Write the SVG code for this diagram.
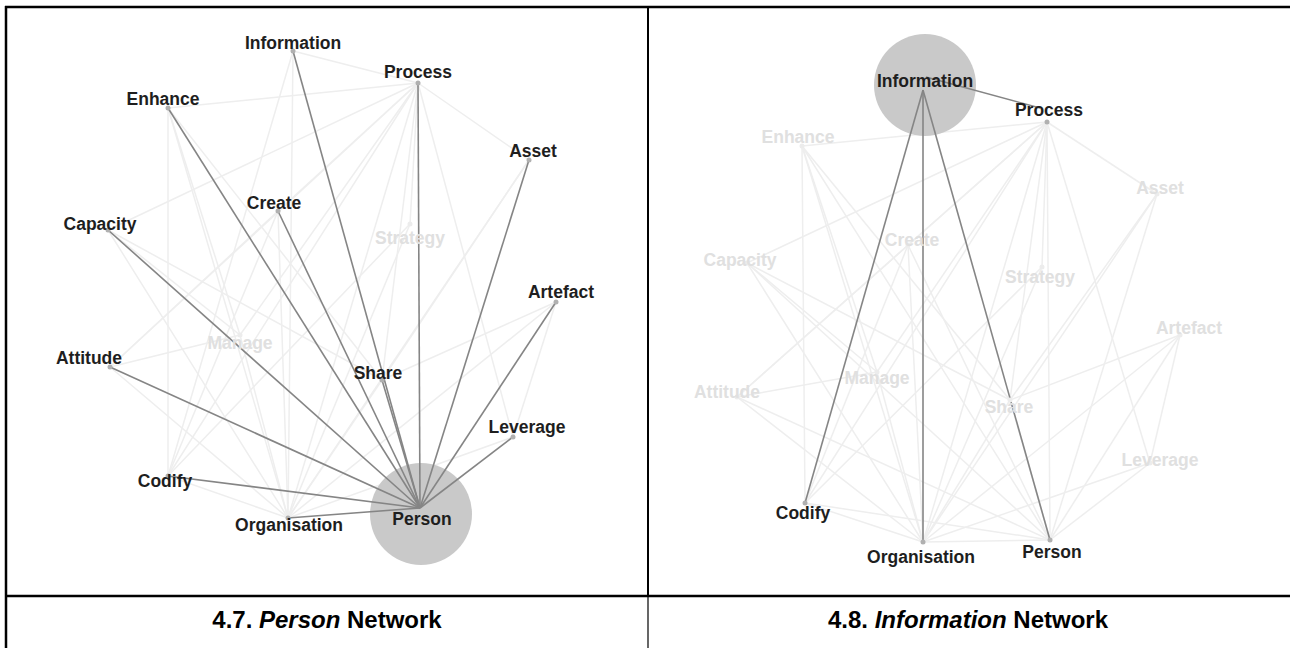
<svg xmlns="http://www.w3.org/2000/svg" width="1290" height="648" viewBox="0 0 1290 648">
<style>
.faint line{stroke:#eeeeee;stroke-width:1.5;fill:none}
.dark line{stroke:#858585;stroke-width:1.6;fill:none}
.lbl{font-family:"Liberation Sans",Arial,sans-serif;font-weight:bold;font-size:17.5px;text-anchor:middle;fill:#1e1e1e}
.off{fill:#e0e0e0}
.dot{fill:#b0b0b0}
.dotoff{fill:#ececec}
.halo{fill:#c9c9c9}
.cap{font-family:"Liberation Sans",Arial,sans-serif;font-weight:bold;font-size:24px;text-anchor:middle;fill:#000}
.frame{stroke:#000;fill:none}
</style>
<rect width="1290" height="648" fill="#fff"/>

<!-- LEFT PANEL: Person network -->
<g id="left-connectors-faint" class="faint">
<line x1="168" y1="108" x2="418" y2="83"/>
<line x1="108" y1="230" x2="418" y2="83"/>
<line x1="278" y1="211" x2="418" y2="83"/>
<line x1="410" y1="224" x2="418" y2="83"/>
<line x1="240" y1="335" x2="418" y2="83"/>
<line x1="168" y1="476" x2="418" y2="83"/>
<line x1="288" y1="518" x2="418" y2="83"/>
<line x1="382" y1="380" x2="418" y2="83"/>
<line x1="513" y1="437" x2="418" y2="83"/>
<line x1="529" y1="160" x2="418" y2="83"/>
<line x1="110" y1="367" x2="418" y2="83"/>
<line x1="168" y1="108" x2="168" y2="476"/>
<line x1="168" y1="108" x2="240" y2="335"/>
<line x1="168" y1="108" x2="288" y2="518"/>
<line x1="168" y1="108" x2="382" y2="380"/>
<line x1="293" y1="51" x2="418" y2="83"/>
<line x1="293" y1="51" x2="168" y2="476"/>
<line x1="293" y1="51" x2="288" y2="518"/>
<line x1="108" y1="230" x2="240" y2="335"/>
<line x1="108" y1="230" x2="288" y2="518"/>
<line x1="108" y1="230" x2="382" y2="380"/>
<line x1="278" y1="211" x2="168" y2="476"/>
<line x1="278" y1="211" x2="288" y2="518"/>
<line x1="278" y1="211" x2="110" y2="367"/>
<line x1="110" y1="367" x2="288" y2="518"/>
<line x1="110" y1="367" x2="240" y2="335"/>
<line x1="529" y1="160" x2="288" y2="518"/>
<line x1="529" y1="160" x2="382" y2="380"/>
<line x1="556" y1="302" x2="288" y2="518"/>
<line x1="556" y1="302" x2="382" y2="380"/>
<line x1="556" y1="302" x2="513" y2="437"/>
<line x1="513" y1="437" x2="288" y2="518"/>
<line x1="410" y1="224" x2="288" y2="518"/>
<line x1="410" y1="224" x2="168" y2="476"/>
<line x1="240" y1="335" x2="288" y2="518"/>
<line x1="382" y1="380" x2="288" y2="518"/>
<line x1="168" y1="476" x2="288" y2="518"/>
</g>
<g id="node-person-left-halo"><circle class="halo" cx="421" cy="514" r="51"/></g>
<g id="left-connectors-dark" class="dark">
<line x1="420" y1="508" x2="293" y2="51"/>
<line x1="420" y1="508" x2="418" y2="83"/>
<line x1="420" y1="508" x2="168" y2="108"/>
<line x1="420" y1="508" x2="529" y2="160"/>
<line x1="420" y1="508" x2="278" y2="211"/>
<line x1="420" y1="508" x2="108" y2="230"/>
<line x1="420" y1="508" x2="556" y2="302"/>
<line x1="420" y1="508" x2="110" y2="367"/>
<line x1="420" y1="508" x2="382" y2="380"/>
<line x1="420" y1="508" x2="513" y2="437"/>
<line x1="420" y1="508" x2="168" y2="476"/>
<line x1="420" y1="508" x2="288" y2="518"/>
</g>
<g id="L-information"><circle class="dot" cx="293" cy="51" r="2.5"/><text class="lbl" x="293" y="49">Information</text></g>
<g id="L-process"><circle class="dot" cx="418" cy="83" r="2.5"/><text class="lbl" x="418" y="78">Process</text></g>
<g id="L-enhance"><circle class="dot" cx="168" cy="108" r="2.5"/><text class="lbl" x="163" y="105">Enhance</text></g>
<g id="L-asset"><circle class="dot" cx="529" cy="160" r="2.5"/><text class="lbl" x="533" y="157">Asset</text></g>
<g id="L-create"><circle class="dot" cx="278" cy="211" r="2.5"/><text class="lbl" x="274" y="209">Create</text></g>
<g id="L-capacity"><circle class="dot" cx="108" cy="230" r="2.5"/><text class="lbl" x="100" y="230">Capacity</text></g>
<g id="L-strategy"><circle class="dotoff" cx="410" cy="224" r="2.5"/><text class="lbl off" x="410" y="244">Strategy</text></g>
<g id="L-artefact"><circle class="dot" cx="556" cy="302" r="2.5"/><text class="lbl" x="561" y="298">Artefact</text></g>
<g id="L-manage"><circle class="dotoff" cx="240" cy="335" r="2.5"/><text class="lbl off" x="240" y="349">Manage</text></g>
<g id="L-attitude"><circle class="dot" cx="110" cy="367" r="2.5"/><text class="lbl" x="89" y="364">Attitude</text></g>
<g id="L-share"><circle class="dot" cx="382" cy="380" r="2.5"/><text class="lbl" x="378" y="379">Share</text></g>
<g id="L-leverage"><circle class="dot" cx="513" cy="437" r="2.5"/><text class="lbl" x="527" y="433">Leverage</text></g>
<g id="L-codify"><circle class="dot" cx="168" cy="476" r="2.5"/><text class="lbl" x="165" y="487">Codify</text></g>
<g id="L-organisation"><circle class="dot" cx="288" cy="518" r="2.5"/><text class="lbl" x="289" y="531">Organisation</text></g>
<g id="L-person"><text class="lbl" x="422" y="525">Person</text></g>

<!-- RIGHT PANEL: Information network -->
<g id="right-connectors-faint" class="faint">
<line x1="802" y1="146" x2="1047" y2="122"/>
<line x1="747" y1="263" x2="1047" y2="122"/>
<line x1="908" y1="245" x2="1047" y2="122"/>
<line x1="1042" y1="267" x2="1047" y2="122"/>
<line x1="877" y1="372" x2="1047" y2="122"/>
<line x1="805" y1="503" x2="1047" y2="122"/>
<line x1="923" y1="542" x2="1047" y2="122"/>
<line x1="1010" y1="400" x2="1047" y2="122"/>
<line x1="1150" y1="463" x2="1047" y2="122"/>
<line x1="1157" y1="194" x2="1047" y2="122"/>
<line x1="737" y1="397" x2="1047" y2="122"/>
<line x1="1047" y1="122" x2="1050" y2="540"/>
<line x1="802" y1="146" x2="805" y2="503"/>
<line x1="802" y1="146" x2="877" y2="372"/>
<line x1="802" y1="146" x2="923" y2="542"/>
<line x1="802" y1="146" x2="1010" y2="400"/>
<line x1="802" y1="146" x2="1050" y2="540"/>
<line x1="747" y1="263" x2="877" y2="372"/>
<line x1="747" y1="263" x2="923" y2="542"/>
<line x1="747" y1="263" x2="1010" y2="400"/>
<line x1="747" y1="263" x2="1050" y2="540"/>
<line x1="908" y1="245" x2="805" y2="503"/>
<line x1="908" y1="245" x2="923" y2="542"/>
<line x1="908" y1="245" x2="737" y2="397"/>
<line x1="908" y1="245" x2="1050" y2="540"/>
<line x1="737" y1="397" x2="923" y2="542"/>
<line x1="737" y1="397" x2="877" y2="372"/>
<line x1="737" y1="397" x2="1050" y2="540"/>
<line x1="1157" y1="194" x2="923" y2="542"/>
<line x1="1157" y1="194" x2="1010" y2="400"/>
<line x1="1157" y1="194" x2="1050" y2="540"/>
<line x1="1180" y1="335" x2="923" y2="542"/>
<line x1="1180" y1="335" x2="1010" y2="400"/>
<line x1="1180" y1="335" x2="1150" y2="463"/>
<line x1="1180" y1="335" x2="1050" y2="540"/>
<line x1="1150" y1="463" x2="923" y2="542"/>
<line x1="1150" y1="463" x2="1050" y2="540"/>
<line x1="1042" y1="267" x2="923" y2="542"/>
<line x1="1042" y1="267" x2="805" y2="503"/>
<line x1="877" y1="372" x2="923" y2="542"/>
<line x1="1010" y1="400" x2="923" y2="542"/>
<line x1="1010" y1="400" x2="1050" y2="540"/>
<line x1="805" y1="503" x2="923" y2="542"/>
<line x1="805" y1="503" x2="1050" y2="540"/>
<line x1="923" y1="542" x2="1050" y2="540"/>
</g>
<g id="node-information-right-halo"><circle class="halo" cx="925" cy="85" r="51"/></g>
<g id="right-connectors-dark" class="dark">
<line x1="926" y1="77" x2="1040" y2="108"/>
<line x1="923" y1="90" x2="805" y2="503"/>
<line x1="923" y1="90" x2="923" y2="542"/>
<line x1="923" y1="90" x2="1050" y2="540"/>
</g>
<g id="R-information"><text class="lbl" x="925" y="87">Information</text></g>
<g id="R-process"><circle class="dot" cx="1047" cy="122" r="2.5"/><text class="lbl" x="1049" y="116">Process</text></g>
<g id="R-enhance"><circle class="dotoff" cx="802" cy="146" r="2.5"/><text class="lbl off" x="798" y="143">Enhance</text></g>
<g id="R-asset"><circle class="dotoff" cx="1157" cy="194" r="2.5"/><text class="lbl off" x="1160" y="194">Asset</text></g>
<g id="R-create"><circle class="dotoff" cx="908" cy="245" r="2.5"/><text class="lbl off" x="912" y="246">Create</text></g>
<g id="R-capacity"><circle class="dotoff" cx="747" cy="263" r="2.5"/><text class="lbl off" x="740" y="266">Capacity</text></g>
<g id="R-strategy"><circle class="dotoff" cx="1042" cy="267" r="2.5"/><text class="lbl off" x="1040" y="283">Strategy</text></g>
<g id="R-artefact"><circle class="dotoff" cx="1180" cy="335" r="2.5"/><text class="lbl off" x="1189" y="334">Artefact</text></g>
<g id="R-manage"><circle class="dotoff" cx="877" cy="372" r="2.5"/><text class="lbl off" x="877" y="384">Manage</text></g>
<g id="R-attitude"><circle class="dotoff" cx="737" cy="397" r="2.5"/><text class="lbl off" x="727" y="398">Attitude</text></g>
<g id="R-share"><circle class="dotoff" cx="1010" cy="400" r="2.5"/><text class="lbl off" x="1009" y="413">Share</text></g>
<g id="R-leverage"><circle class="dotoff" cx="1150" cy="463" r="2.5"/><text class="lbl off" x="1160" y="466">Leverage</text></g>
<g id="R-codify"><circle class="dot" cx="805" cy="503" r="2.5"/><text class="lbl" x="803" y="519">Codify</text></g>
<g id="R-organisation"><circle class="dot" cx="923" cy="542" r="2.5"/><text class="lbl" x="921" y="563">Organisation</text></g>
<g id="R-person"><circle class="dot" cx="1050" cy="540" r="2.5"/><text class="lbl" x="1052" y="558">Person</text></g>

<!-- table frame -->
<g id="table">
<line class="frame" x1="5" y1="7" x2="1290" y2="7" stroke-width="2.5"/>
<line class="frame" x1="6" y1="6" x2="6" y2="648" stroke-width="2.5"/>
<line class="frame" x1="5" y1="596" x2="1290" y2="596" stroke-width="2.5"/>
<line class="frame" x1="648" y1="7" x2="648" y2="596" stroke-width="2"/>
<line class="frame" x1="648" y1="596" x2="648" y2="648" stroke-width="1.2"/>
</g>
<g id="captions">
<text class="cap" x="327" y="628">4.7. <tspan font-style="italic">Person</tspan> Network</text>
<text class="cap" x="968" y="628">4.8. <tspan font-style="italic">Information</tspan> Network</text>
</g>
</svg>
